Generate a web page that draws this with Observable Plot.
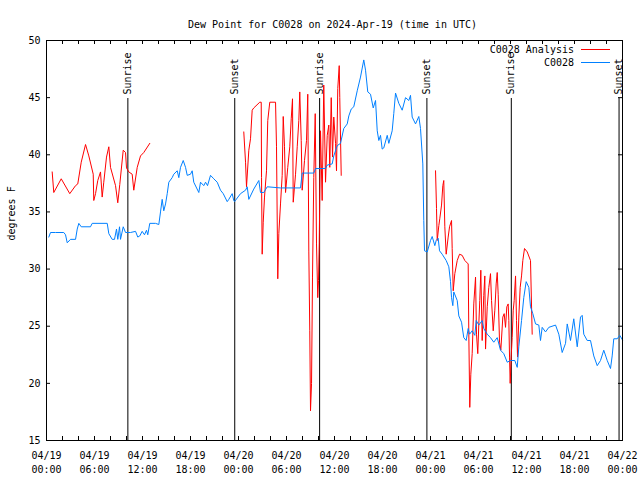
<!DOCTYPE html>
<html><head><meta charset="utf-8">
<script src="https://cdn.jsdelivr.net/npm/d3@7"></script>
<script src="https://cdn.jsdelivr.net/npm/@observablehq/plot@0.6"></script>
<style>
body{margin:0;background:#fff;}
#wrap{position:relative;width:640px;height:480px;font-family:"DejaVu Sans Mono",monospace;font-size:10px;}
.lg{position:absolute;right:66px;line-height:12px;white-space:pre;color:#000;}
.sw{position:absolute;left:581px;width:29px;height:0;}
</style></head><body><div id="wrap"></div>
<script>
// hours since 2024-04-19 00:00 UTC, dew point (F)
const observed = [
[0.29,32.8],[0.5,33.2],[1.13,33.2],[2.16,33.2],[2.38,33.0],[2.59,32.3],[3.0,32.6],[3.63,32.6],[3.84,33.5],[4.04,34.0],[4.34,33.7],[5.5,33.7],[5.71,34.0],[7.59,34.0],[7.79,33.1],[8.21,32.6],[8.5,32.6],[8.75,33.5],[8.91,32.6],[9.13,33.7],[9.25,32.6],[9.59,33.7],[9.88,33.2],[10.5,33.2],[11.13,33.3],[11.41,32.8],[11.66,32.9],[11.96,33.3],[12.25,33.0],[12.5,33.4],[12.66,33.0],[12.91,34.0],[13.63,34.0],[14.04,33.9],[14.25,35.0],[14.46,36.1],[14.66,35.1],[14.88,35.7],[15.09,36.6],[15.29,37.6],[15.71,38.0],[15.91,38.3],[16.34,38.6],[16.54,38.0],[16.75,38.9],[17.09,39.5],[17.38,38.9],[17.59,38.2],[18.0,38.3],[18.21,38.6],[18.41,37.6],[19.04,36.7],[19.25,37.6],[19.66,37.3],[19.88,37.6],[20.13,37.3],[20.5,38.2],[20.91,37.9],[21.34,37.6],[21.75,36.9],[22.09,36.6],[22.59,35.9],[22.79,36.1],[23.21,36.6],[23.41,36.0],[23.5,35.9],[24.25,36.6],[24.88,36.9],[25.09,37.2],[25.29,36.1],[25.91,37.0],[26.54,37.75],[26.75,36.7],[27.16,36.7],[27.59,37.2],[29.25,37.1],[31.75,37.1],[31.96,38.4],[33.41,38.4],[33.63,38.8],[34.88,38.8],[35.09,39.1],[35.71,39.2],[35.91,39.9],[36.34,40.8],[36.75,41.0],[37.16,42.3],[37.59,42.7],[37.79,43.4],[38.09,44.0],[38.41,44.2],[38.84,45.6],[39.25,46.8],[39.66,48.3],[39.88,47.4],[40.16,45.5],[40.5,45.3],[40.84,44.1],[41.13,44.75],[41.34,42.1],[41.54,41.25],[41.75,41.7],[41.96,40.5],[42.16,40.6],[42.59,41.7],[42.79,41.0],[43.21,42.1],[43.41,43.6],[43.63,45.4],[44.04,44.5],[44.46,43.9],[44.88,45.0],[45.29,44.75],[45.5,45.2],[45.71,43.3],[46.13,42.7],[46.54,43.35],[46.75,42.3],[47.04,39.2],[47.16,34.25],[47.25,31.6],[47.59,31.5],[48.0,32.5],[48.21,32.85],[48.54,32.05],[48.71,32.5],[48.96,32.7],[49.13,31.6],[49.46,31.3],[49.96,30.75],[50.29,30.2],[50.5,28.9],[50.63,27.5],[50.79,26.8],[50.91,28.0],[51.34,27.25],[51.54,25.9],[51.88,25.35],[52.16,24.0],[52.46,23.75],[52.71,24.8],[52.88,24.3],[53.21,24.6],[53.54,24.2],[53.71,25.5],[54.04,25.1],[54.46,25.5],[54.66,24.8],[55.09,24.3],[55.5,24.0],[55.91,23.6],[56.34,24.0],[56.75,22.9],[57.16,22.6],[57.59,21.85],[58.0,22.0],[58.54,22.0],[58.84,21.4],[59.04,23.2],[59.38,25.5],[59.66,27.5],[59.96,28.9],[60.29,28.4],[60.5,26.7],[60.79,26.1],[61.13,25.2],[61.54,25.1],[61.75,23.75],[61.96,24.9],[62.38,24.5],[62.79,24.9],[63.63,25.1],[64.04,24.3],[64.46,22.7],[64.88,23.5],[65.09,25.2],[65.5,23.75],[65.91,25.65],[66.34,23.2],[66.75,25.8],[66.96,25.95],[67.16,24.3],[67.59,23.75],[68.0,23.75],[68.41,22.4],[68.84,21.55],[69.25,22.0],[69.66,22.9],[70.09,22.0],[70.5,21.3],[70.71,22.4],[70.91,23.9],[71.34,23.9],[71.66,24.2],[72.0,23.8]
];
const analysis1 = [
[0.71,38.5],[0.91,36.7],[1.84,37.9],[2.91,36.6],[3.63,37.3],[3.91,37.45],[4.34,39.35],[4.88,40.9],[5.29,39.9],[5.84,38.3],[5.91,36.0],[6.13,36.6],[6.41,37.75],[6.75,38.5],[6.96,36.3],[7.16,37.6],[7.5,39.8],[7.79,40.7],[8.0,38.9],[8.63,37.3],[8.91,35.8],[9.16,37.4],[9.59,40.4],[9.88,40.2],[10.0,38.85],[10.29,38.5],[10.71,38.3],[10.91,36.9],[11.34,38.9],[11.75,39.9],[12.16,40.2],[12.91,41.0]
];
const analysis2 = [
[24.66,42.0],[24.88,39.35],[25.0,37.2],[25.29,40.4],[25.5,41.4],[25.71,43.9],[25.91,44.1],[26.66,44.6],[26.84,44.6],[26.88,38.0],[26.96,31.3],[27.09,34.1],[27.25,36.3],[27.5,38.6],[27.66,43.0],[27.91,44.6],[28.63,44.6],[28.75,40.7],[28.91,29.15],[29.04,33.1],[29.25,35.7],[29.46,38.2],[29.59,43.35],[29.75,40.7],[29.88,36.7],[30.16,38.9],[30.41,40.7],[30.59,43.15],[30.75,44.9],[30.84,35.85],[31.13,38.3],[31.34,40.7],[31.54,43.0],[31.66,45.5],[31.84,41.25],[31.96,36.9],[32.25,39.5],[32.5,41.25],[32.66,45.3],[32.79,31.5],[32.91,24.6],[33.0,17.6],[33.13,20.0],[33.25,29.3],[33.41,38.0],[33.59,43.6],[33.75,32.2],[33.91,27.5],[34.0,29.0],[34.09,32.2],[34.25,42.1],[34.46,36.0],[34.66,46.1],[34.88,37.6],[35.09,41.7],[35.29,42.6],[35.41,38.9],[35.59,45.0],[35.75,39.8],[35.91,43.3],[36.13,41.0],[36.25,38.6],[36.41,45.8],[36.59,47.8],[36.66,45.0],[36.84,38.2]
];
const analysis3 = [
[48.63,38.6],[48.75,35.3],[48.84,32.5],[49.04,33.8],[49.16,34.4],[49.38,35.6],[49.54,37.3],[49.66,37.75],[49.79,33.7],[49.96,31.3],[50.21,32.8],[50.38,33.7],[50.63,34.25],[50.71,31.8],[50.84,28.1],[51.04,29.6],[51.34,30.75],[51.63,31.3],[51.96,31.2],[52.29,30.75],[52.71,30.45],[52.79,24.3],[52.91,17.9],[53.04,20.8],[53.21,22.6],[53.41,26.95],[53.63,29.3],[53.75,24.3],[53.91,22.6],[54.04,25.2],[54.16,27.25],[54.29,29.9],[54.46,23.75],[54.66,27.7],[54.79,29.4],[54.88,23.0],[55.09,26.7],[55.29,28.4],[55.5,29.6],[55.63,27.25],[55.84,24.6],[56.04,26.4],[56.21,28.7],[56.34,29.7],[56.46,27.8],[56.63,23.6],[56.79,22.9],[57.04,25.8],[57.21,26.1],[57.38,24.9],[57.54,26.7],[57.71,26.95],[57.79,25.5],[57.88,22.3],[57.96,20.0],[58.09,22.4],[58.21,24.0],[58.34,26.4],[58.46,27.25],[58.63,29.4],[58.75,25.5],[58.88,22.3],[59.04,25.8],[59.21,28.4],[59.38,29.4],[59.54,30.75],[59.75,31.8],[60.09,31.5],[60.5,30.75],[60.71,24.3]
];
const sunHours = [10.17, 23.53, 34.14, 47.55, 58.1, 71.57];
const sunLabels = ["Sunrise", "Sunset", "Sunrise", "Sunset", "Sunrise", "Sunset"];
const xTickHours = [0, 6, 12, 18, 24, 30, 36, 42, 48, 54, 60, 66, 72];
const xTickLabels = ["04/19\n00:00","04/19\n06:00","04/19\n12:00","04/19\n18:00","04/20\n00:00","04/20\n06:00","04/20\n12:00","04/20\n18:00","04/21\n00:00","04/21\n06:00","04/21\n12:00","04/21\n18:00","04/22\n00:00"];
const xMinorHours = d3.range(0, 73, 2);
const yTicks = [15, 20, 25, 30, 35, 40, 45, 50];
const seriesNames = ["C0028 Analysis", "C0028"];
const seriesColors = ["#ff0000", "#0080ff"];
const titleText = "Dew Point for C0028 on 2024-Apr-19 (time in UTC)";
const yLabel = "degrees F";

const t0 = Date.UTC(2024, 3, 19);
const toDate = h => new Date(t0 + h * 3600e3);
const obsData = observed.map(([h, v]) => ({t: toDate(h), v}));
const anaData = [analysis1, analysis2, analysis3].flatMap((seg, i) => seg.map(([h, v]) => ({t: toDate(h), v, seg: i})));
const sunData = sunHours.map((h, i) => ({t: toDate(h), label: sunLabels[i]}));

const chart = Plot.plot({
  width: 640, height: 480,
  marginLeft: 46, marginRight: 18, marginTop: 40, marginBottom: 40,
  style: {fontFamily: '"DejaVu Sans Mono", monospace', fontSize: "10px", background: "white", color: "black", overflow: "visible"},
  x: {type: "utc", domain: [toDate(0), toDate(72)], axis: null},
  y: {domain: [15, 50], axis: null},
  marks: [
    Plot.ruleX(sunData, {x: "t", insetTop: 58, stroke: "black", strokeWidth: 1}),
    Plot.text(sunData, {x: "t", text: "label", frameAnchor: "top", dy: 54, dx: -4, rotate: -90, textAnchor: "start", fill: "black"}),
    Plot.line(anaData, {x: "t", y: "v", z: "seg", stroke: seriesColors[0], strokeWidth: 1}),
    Plot.line(obsData, {x: "t", y: "v", stroke: seriesColors[1], strokeWidth: 1}),
    Plot.ruleX(xMinorHours, {x: d => toDate(d), insetTop: 396, stroke: "black"}),
    Plot.ruleX(xMinorHours, {x: d => toDate(d), insetBottom: 396, stroke: "black"}),
    Plot.ruleY(yTicks, {y: d => d, insetRight: 572, stroke: "black"}),
    Plot.ruleY(yTicks, {y: d => d, insetLeft: 572, stroke: "black"}),
    Plot.frame({stroke: "black", strokeWidth: 1}),
    Plot.text(xTickHours, {x: d => toDate(d), text: (d, i) => xTickLabels[i], frameAnchor: "bottom", lineAnchor: "top", dy: 9, lineHeight: 1.35, fill: "black"}),
    Plot.text(yTicks, {y: d => d, text: d => String(d), frameAnchor: "left", textAnchor: "end", dx: -6, fill: "black"}),
    Plot.text([titleText], {text: d => d, frameAnchor: "top", dy: -20, dx: -2, fill: "black"}),
    Plot.text([yLabel], {text: d => d, frameAnchor: "left", dx: -35, rotate: -90, fill: "black"})
  ]
});
const wrap = document.getElementById("wrap");
wrap.appendChild(chart);
const lgTops = [44, 57];
const swTops = [49, 62];
seriesNames.forEach((name, i) => {
  const t = document.createElement("div");
  t.className = "lg"; t.style.top = lgTops[i] + "px"; t.textContent = name;
  wrap.appendChild(t);
  const s = document.createElement("div");
  s.className = "sw"; s.style.top = swTops[i] + "px"; s.style.borderTop = "1px solid " + seriesColors[i];
  wrap.appendChild(s);
});
</script></body></html>
